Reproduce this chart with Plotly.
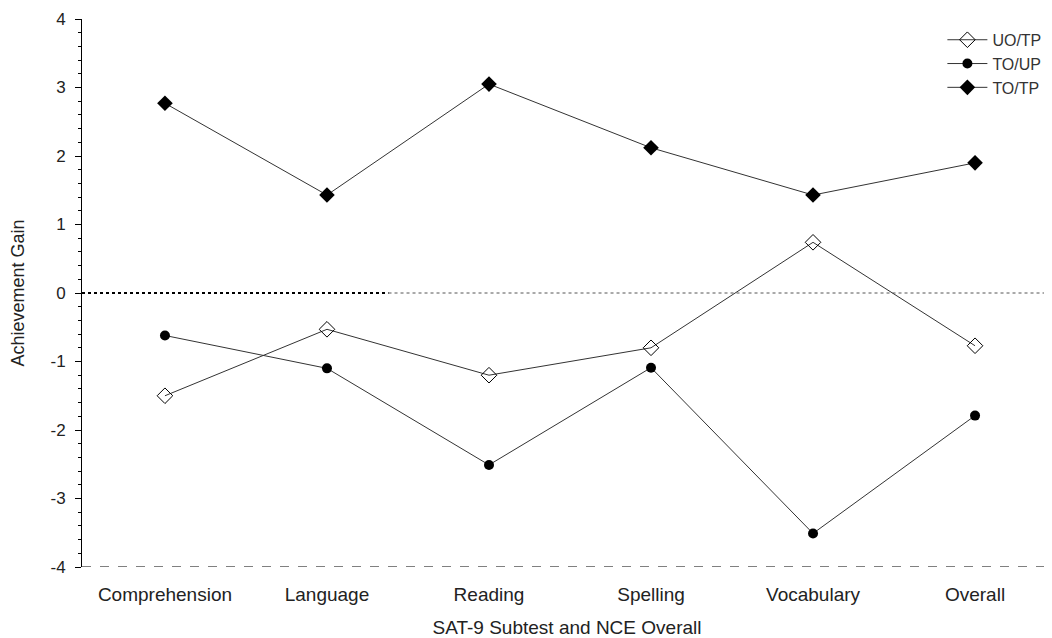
import plotly.graph_objects as go

categories = ["Comprehension", "Language", "Reading", "Spelling", "Vocabulary", "Overall"]
uo_tp = [-1.50, -0.53, -1.20, -0.80, 0.74, -0.77]
to_up = [-0.62, -1.10, -2.51, -1.09, -3.51, -1.79]
to_tp = [2.77, 1.43, 3.05, 2.12, 1.43, 1.90]
y_ticks = [-4, -3, -2, -1, 0, 1, 2, 3, 4]
y_tick_text = ["-4", "-3", "-2", "-1", "0", "1", "2", "3", "4"]

line_col = "#333333"
fig = go.Figure()
fig.add_trace(go.Scatter(
    x=categories, y=uo_tp, name="UO/TP", mode="lines+markers",
    line=dict(color=line_col, width=1),
    marker=dict(symbol="diamond-open", size=12, color="black", line=dict(width=1, color="black")),
))
fig.add_trace(go.Scatter(
    x=categories, y=to_up, name="TO/UP", mode="lines+markers",
    line=dict(color=line_col, width=1),
    marker=dict(symbol="circle", size=10, color="black"),
))
fig.add_trace(go.Scatter(
    x=categories, y=to_tp, name="TO/TP", mode="lines+markers",
    line=dict(color=line_col, width=1),
    marker=dict(symbol="diamond", size=12, color="black"),
))

# zero reference line: heavier dotted part on the left, lighter on the right
fig.add_shape(type="line", xref="paper", yref="y", x0=0, x1=0.316, y0=0, y1=0,
              line=dict(color="black", width=2, dash="dot"), layer="below")
fig.add_shape(type="line", xref="paper", yref="y", x0=0.316, x1=1, y0=0, y1=0,
              line=dict(color="#555555", width=1, dash="dot"), layer="below")
# dashed bottom axis line
fig.add_shape(type="line", xref="paper", yref="y", x0=0, x1=1, y0=-4, y1=-4,
              line=dict(color="black", width=1, dash="dash"))

fig.update_layout(
    width=1044, height=630,
    margin=dict(l=74, r=0, t=11, b=71),
    paper_bgcolor="white", plot_bgcolor="white",
    font=dict(family="Liberation Sans, Arial, sans-serif", size=19, color="#222222"),
    showlegend=True,
    legend=dict(x=0.887, y=0.993, xanchor="left", yanchor="top",
                bgcolor="rgba(0,0,0,0)", font=dict(size=16, color="#333333"),
                itemwidth=40, tracegroupgap=0),
    xaxis=dict(
        range=[-0.512, 5.475], showgrid=False, zeroline=False, showline=False,
        ticks="", ticklabelstandoff=14, automargin=False,
        tickfont=dict(size=19),
        title=dict(text="SAT-9 Subtest and NCE Overall", font=dict(size=19), standoff=21),
    ),
    yaxis=dict(
        range=[-4, 4], tickvals=y_ticks, ticktext=y_tick_text,
        showgrid=False, zeroline=False, automargin=False,
        showline=True, linecolor="black", linewidth=1,
        ticks="outside", ticklen=6, tickcolor="black",
        minor=dict(dtick=0.2, ticks="outside", ticklen=3, tickcolor="black"),
        ticklabelstandoff=6,
        tickfont=dict(size=17),
        title=dict(text="Achievement Gain", font=dict(size=18), standoff=21),
    ),
)

fig.write_html("out.html")
